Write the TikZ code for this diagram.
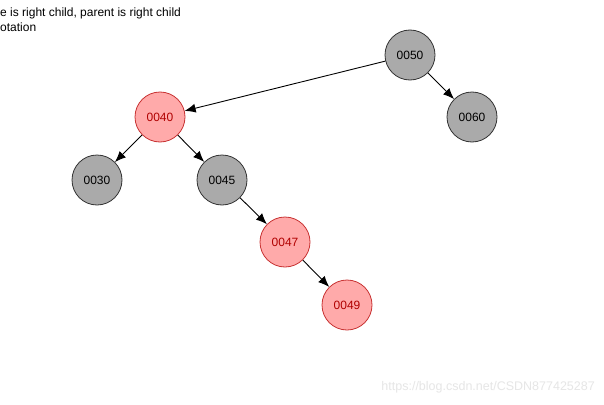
\documentclass[tikz,border=0pt]{standalone}
\usepackage{fontspec}
\setmainfont{Liberation Sans}
\usetikzlibrary{arrows.meta}

\definecolor{blackfill}{HTML}{AAAAAA}
\definecolor{redfill}{HTML}{FFAAAA}
\definecolor{redline}{HTML}{C83232}
\definecolor{redtext}{HTML}{B00000}
\definecolor{marktext}{HTML}{E6E6E6}

\begin{document}
\begin{tikzpicture}[>={Latex[length=11pt,width=9pt]}, x=1pt, y=-1pt,
	blacknode/.style={circle, draw=black!80, fill=blackfill, line width=0.8pt,
		minimum size=50pt, inner sep=0pt, font=\fontsize{12}{14}\selectfont},
	rednode/.style={circle, draw=redline, fill=redfill, line width=0.8pt,
		minimum size=50pt, inner sep=0pt, text=redtext, font=\fontsize{12}{14}\selectfont},
	link/.style={->, line width=0.9pt}]
	% -------- Canvas --------
	\useasboundingbox[fill=white] (0,0) rectangle (604,404);
	
	% Caption (cut at the left edge)
	\node[anchor=north west, align=left, inner sep=0pt,
	font=\fontsize{12}{15}\selectfont] (caption) at (0,8)
	{e is right child, parent is right child\\otation};
	
	% -------- Tree nodes --------
	\node[blacknode] (n50) at (410,55)  {0050};
	\node[blacknode] (n60) at (472,117) {0060};
	\node[rednode]   (n40) at (160,117) {0040};
	\node[blacknode] (n30) at (97,180)  {0030};
	\node[blacknode] (n45) at (222,180) {0045};
	\node[rednode]   (n47) at (285,242) {0047};
	\node[rednode]   (n49) at (347,305) {0049};
	
	% -------- Links (parent -> child) --------
	\foreach \p/\c in {n50/n40, n50/n60, n40/n30, n40/n45, n45/n47, n47/n49}{
		\draw[link] (\p) -- (\c);
	}
	
	% Watermark
	\node[anchor=south east, inner sep=0pt, text=marktext,
	font=\fontsize{12.5}{15}\selectfont] (mark) at (595,393)
	{https://blog.csdn.net/CSDN877425287};
\end{tikzpicture}
\end{document}
